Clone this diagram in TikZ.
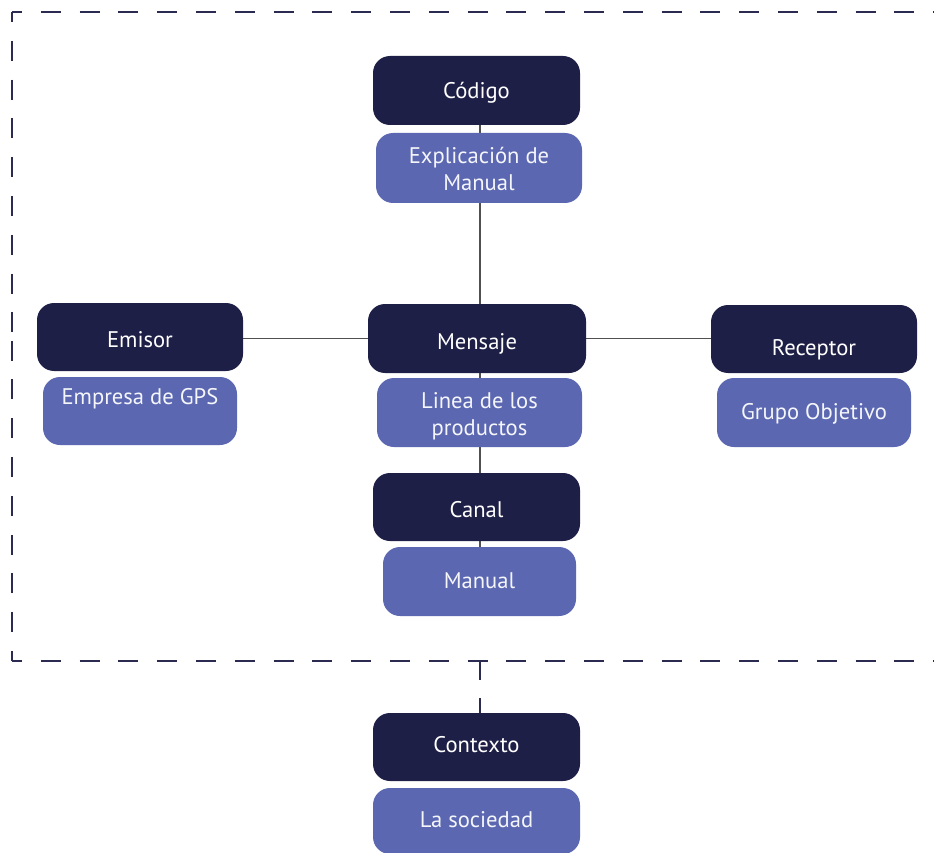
\documentclass[tikz,border=0pt]{standalone}
\usepackage{fontspec}
\setmainfont{PT Sans}
\usetikzlibrary{backgrounds}
\definecolor{dk}{HTML}{1E1F46}
\definecolor{bl}{HTML}{5B67B1}
\definecolor{ln}{HTML}{505050}
\definecolor{fr}{HTML}{2B2B52}
\begin{document}
\begin{tikzpicture}[x=1pt,y=-1pt,
  box/.style={rectangle, rounded corners=17pt, inner sep=0pt, font=\fontsize{22.6}{27}\selectfont},
  darkbox/.style={box, fill=dk, text=white},
  bluebox/.style={box, fill=bl, text=white!94!bl},
  toff/.style={text height=#1, text depth=0pt},
  twoline/.style={align=center, text height=#1, text depth=0pt},
  conn/.style={draw=ln, line width=1.5pt},
  frame/.style={draw=fr, line width=2pt, dash pattern=on 20pt off 18.8pt, dash phase=10pt},
  ctxline/.style={draw=fr, line width=1.8pt, dash pattern=on 19pt off 18pt}]
\useasboundingbox (0,0) rectangle (934,853);
% frame
\draw[frame] (12,12) -- (934,12);
\draw[frame] (12,12) -- (12,336);
\draw[frame] (12,661) -- (12,336);
\draw[frame] (12,661) -- (934,661);
% nodes
\node[darkbox, toff=15.4pt, minimum width=207pt, minimum height=69pt] (codigo) at (476.5,90.5) {Código};
\node[bluebox, twoline=45.8pt, minimum width=206pt, minimum height=70pt] (expl) at (479,168) {Explicación de\\Manual};
\node[darkbox, toff=21.4pt, minimum width=206pt, minimum height=68pt] (emisor) at (140,337) {Emisor};
\node[bluebox, text height=0pt, text depth=12.6pt, minimum width=194pt, minimum height=68pt] (empresa) at (140,411) {Empresa de GPS};
\node[darkbox, toff=21.4pt, minimum width=218pt, minimum height=69pt] (mensaje) at (477,338.5) {Mensaje};
\node[bluebox, twoline=45.8pt, minimum width=205pt, minimum height=69pt] (linea) at (479.5,412.5) {Linea de los\\productos};
\node[darkbox, toff=33.4pt, minimum width=206pt, minimum height=68pt] (receptor) at (814,339) {Receptor};
\node[bluebox, toff=13.4pt, minimum width=194pt, minimum height=69pt] (grupo) at (814,412.5) {Grupo Objetivo};
\node[darkbox, toff=20.4pt, minimum width=207pt, minimum height=68pt] (canal) at (476.5,507) {Canal};
\node[bluebox, toff=13.4pt, minimum width=193pt, minimum height=69pt] (manual) at (479.5,581.5) {Manual};
\node[darkbox, toff=10.4pt, minimum width=207pt, minimum height=68pt] (contexto) at (476.5,747) {Contexto};
\node[bluebox, toff=12.4pt, minimum width=207pt, minimum height=66pt] (sociedad) at (476.5,821) {La sociedad};
\coordinate (vx) at (480,0);
\coordinate (fb) at (480,661);
% connectors
\begin{scope}[on background layer]
\draw[conn] (codigo.south -| vx) -- (expl.north -| vx);
\draw[conn] (expl.south -| vx) -- (mensaje.north -| vx);
\draw[conn] (mensaje.south -| vx) -- (linea.north -| vx);
\draw[conn] (linea.south -| vx) -- (canal.north -| vx);
\draw[conn] (canal.south -| vx) -- (manual.north -| vx);
\draw[conn] (emisor.east |- mensaje) -- (mensaje.west);
\draw[conn] (mensaje.east) -- (receptor.west |- mensaje);
\draw[ctxline] (fb) -- (fb |- contexto.north);
\end{scope}
\end{tikzpicture}
\end{document}
